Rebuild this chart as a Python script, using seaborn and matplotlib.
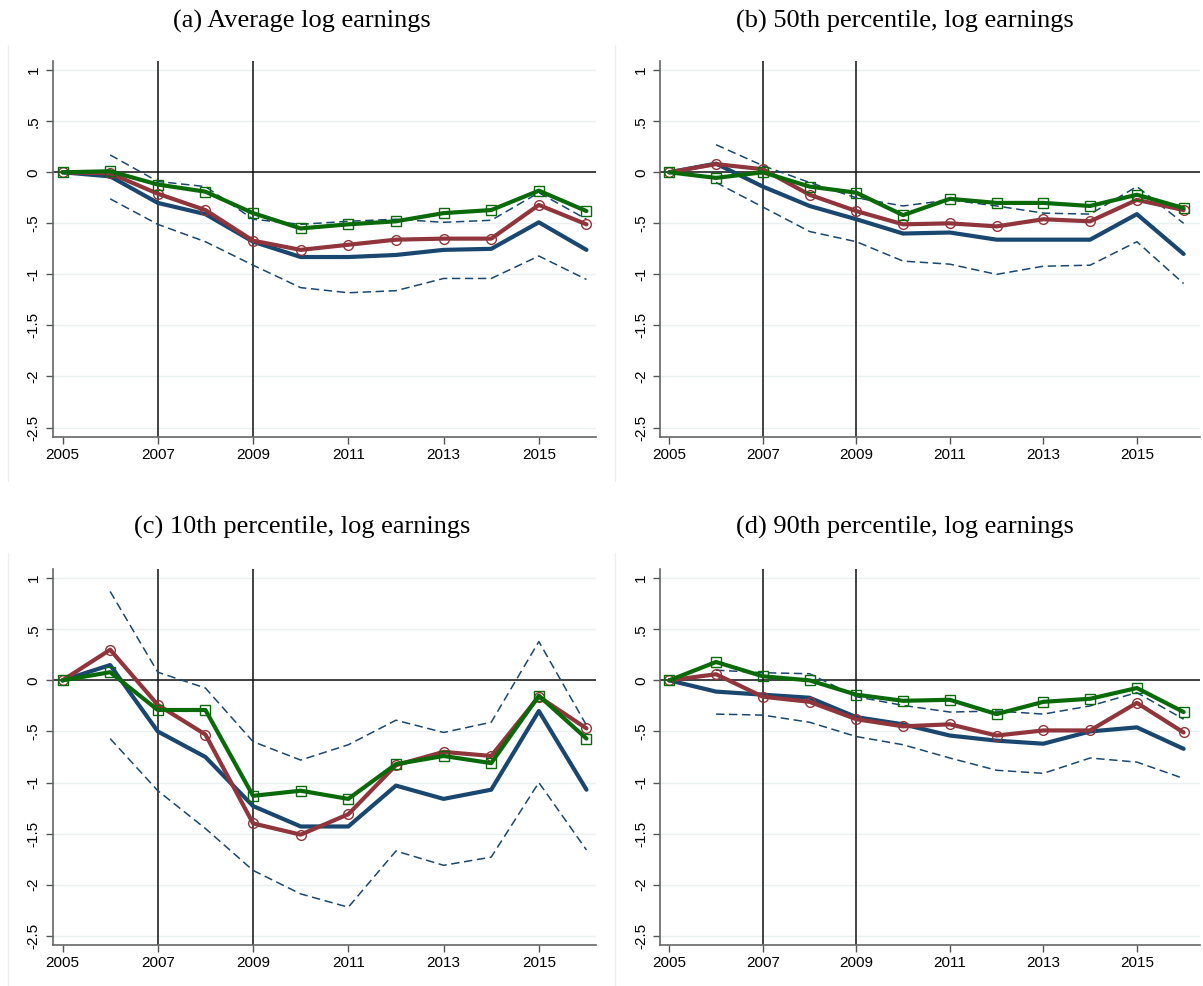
import numpy as np
import pandas as pd
import matplotlib
matplotlib.use("Agg")
import matplotlib.pyplot as plt
import seaborn as sns
from matplotlib.lines import Line2D

sns.set_theme(style="white")
plt.rcParams['font.family'] = ['Liberation Sans', 'DejaVu Sans']
plt.rcParams['text.color'] = 'black'

years = list(range(2005, 2017))
ci_years = list(range(2006, 2017))

titles = ["(a) Average log earnings", "(b) 50th percentile, log earnings",
          "(c) 10th percentile, log earnings", "(d) 90th percentile, log earnings"]

# Panel (a)
a_blue = [0, -0.04, -0.30, -0.41, -0.68, -0.83, -0.83, -0.81, -0.76, -0.75, -0.49, -0.76]
a_red = [0, -0.01, -0.21, -0.37, -0.67, -0.76, -0.71, -0.66, -0.65, -0.65, -0.32, -0.51]
a_green = [0, 0.01, -0.12, -0.19, -0.40, -0.55, -0.51, -0.48, -0.40, -0.37, -0.18, -0.38]
a_hi = [0.17, -0.09, -0.14, -0.46, -0.51, -0.48, -0.46, -0.49, -0.47, -0.20, -0.46]
a_lo = [-0.26, -0.51, -0.68, -0.91, -1.13, -1.18, -1.16, -1.04, -1.04, -0.82, -1.05]

# Panel (b)
b_blue = [0, 0.085, -0.14, -0.33, -0.46, -0.60, -0.59, -0.66, -0.66, -0.66, -0.41, -0.80]
b_red = [0, 0.08, 0.03, -0.22, -0.38, -0.51, -0.50, -0.53, -0.46, -0.48, -0.27, -0.37]
b_green = [0, -0.055, 0.0, -0.14, -0.20, -0.42, -0.26, -0.30, -0.30, -0.33, -0.22, -0.35]
b_hi = [0.27, 0.065, -0.10, -0.25, -0.33, -0.27, -0.33, -0.40, -0.41, -0.14, -0.50]
b_lo = [-0.10, -0.34, -0.58, -0.68, -0.87, -0.90, -1.00, -0.92, -0.91, -0.68, -1.09]

# Panel (c)
c_blue = [0, 0.15, -0.50, -0.75, -1.23, -1.43, -1.43, -1.03, -1.16, -1.07, -0.30, -1.07]
c_red = [0, 0.30, -0.24, -0.53, -1.40, -1.51, -1.31, -0.83, -0.70, -0.74, -0.16, -0.47]
c_green = [0, 0.08, -0.29, -0.29, -1.13, -1.08, -1.16, -0.82, -0.74, -0.81, -0.15, -0.57]
c_hi = [0.87, 0.08, -0.075, -0.60, -0.78, -0.63, -0.39, -0.51, -0.41, 0.38, -0.44]
c_lo = [-0.57, -1.08, -1.45, -1.86, -2.09, -2.22, -1.67, -1.81, -1.73, -1.00, -1.66]

# Panel (d)
d_blue = [0, -0.11, -0.14, -0.17, -0.36, -0.43, -0.54, -0.59, -0.62, -0.50, -0.46, -0.67]
d_red = [0, 0.06, -0.16, -0.21, -0.38, -0.45, -0.43, -0.54, -0.49, -0.49, -0.22, -0.51]
d_green = [0, 0.18, 0.04, 0.0, -0.14, -0.20, -0.19, -0.33, -0.21, -0.18, -0.075, -0.31]
d_hi = [0.10, 0.075, 0.065, -0.16, -0.245, -0.31, -0.30, -0.33, -0.25, -0.12, -0.38]
d_lo = [-0.33, -0.34, -0.41, -0.55, -0.63, -0.76, -0.88, -0.91, -0.76, -0.80, -0.96]

panels = [
    (a_blue, a_red, a_green, a_hi, a_lo),
    (b_blue, b_red, b_green, b_hi, b_lo),
    (c_blue, c_red, c_green, c_hi, c_lo),
    (d_blue, d_red, d_green, d_hi, d_lo),
]

ytick_vals = [1, 0.5, 0, -0.5, -1, -1.5, -2, -2.5]
ytick_labels = ["1", ".5", "0", "-.5", "-1", "-1.5", "-2", "-2.5"]
xtick_vals = [2005, 2007, 2009, 2011, 2013, 2015]

NAVY = "#1a476f"
MAROON = "#90353b"
GREEN = "#0a6a0a"

W, H = 1203, 986
fig = plt.figure(figsize=(W / 100, H / 100), dpi=100)

def fx(px):
    return px / W

def fy(py):
    return 1 - py / H

rects = [
    (53, 596, 61, 436.7),
    (660.4, 1200, 61, 436.7),
    (53, 596, 569, 945),
    (660.4, 1200, 569, 945),
]
xlims = [(2004.8, 2016.2), (2004.81, 2016.35), (2004.8, 2016.2), (2004.81, 2016.35)]
title_pos = [(302, 21), (905, 21), (302, 527), (905, 527)]

# faint panel region borders
for xl, (y0, y1) in [(8, (45, 481)), (615, (45, 481)), (8, (553, 986)), (615, (553, 986))]:
    fig.add_artist(Line2D([fx(xl), fx(xl)], [fy(y0), fy(y1)], color="#eeeeee", lw=1.0))

for i, (blue, red, green, hi, lo) in enumerate(panels):
    l, r, t, b = rects[i]
    ax = fig.add_axes([fx(l), fy(b), fx(r) - fx(l), fy(t) - fy(b)])
    ax.set_facecolor("white")
    ax.set_xlim(*xlims[i])
    ax.set_ylim(-2.59, 1.09)

    for yv in ytick_vals:
        ax.axhline(yv, color="#e8f0f1", lw=1.0, zorder=0)
    ax.axhline(0, color="#222222", lw=1.2, zorder=1)
    ax.axvline(2007, color="#111111", lw=1.1, zorder=1)
    ax.axvline(2009, color="#111111", lw=1.1, zorder=1)

    sns.lineplot(x=ci_years, y=hi, ax=ax, color=NAVY, lw=1.1, dashes=False,
                 linestyle=(0, (5.5, 3)), zorder=2)
    sns.lineplot(x=ci_years, y=lo, ax=ax, color=NAVY, lw=1.1, dashes=False,
                 linestyle=(0, (5.5, 3)), zorder=2)
    sns.lineplot(x=years, y=blue, ax=ax, color=NAVY, lw=3.0, zorder=3)
    sns.lineplot(x=years, y=red, ax=ax, color=MAROON, lw=3.0, zorder=4,
                 marker="o", markersize=7, markerfacecolor="none",
                 markeredgecolor=MAROON, markeredgewidth=1.0)
    sns.lineplot(x=years, y=green, ax=ax, color=GREEN, lw=3.0, zorder=5,
                 marker="s", markersize=7, markerfacecolor="none",
                 markeredgecolor=GREEN, markeredgewidth=1.0)

    ax.set_yticks(ytick_vals)
    ax.set_yticklabels(ytick_labels, rotation=90, va="center", fontsize=11)
    ax.set_xticks(xtick_vals)
    ax.set_xticklabels([str(v) for v in xtick_vals], fontsize=11)
    ax.tick_params(axis="both", direction="out", length=5, width=1.0,
                   color="#555555", labelcolor="black", pad=3,
                   left=True, bottom=True)
    ax.tick_params(axis="y", pad=4)
    for s in ["top", "right"]:
        ax.spines[s].set_visible(False)
    for s in ["left", "bottom"]:
        ax.spines[s].set_color("#666666")
        ax.spines[s].set_linewidth(1.2)
    ax.set_xlabel("")
    ax.set_ylabel("")
    ax.grid(False)

    tx, ty = title_pos[i]
    fig.text(fx(tx), fy(ty), titles[i], ha="center", va="center", color="black",
             fontsize=19, family=["Liberation Serif", "DejaVu Serif"])

fig.savefig("out.png", dpi=100, facecolor="white")
